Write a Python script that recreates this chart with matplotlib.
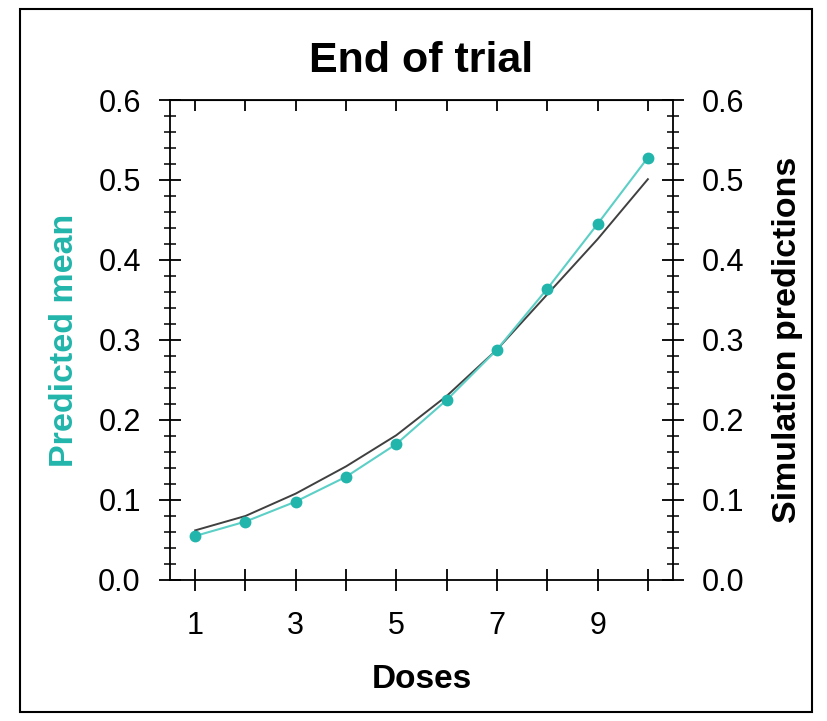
import numpy as np
import matplotlib.pyplot as plt
from matplotlib.patches import Rectangle
from matplotlib.ticker import MultipleLocator

plt.rcParams['font.family'] = ['Liberation Sans', 'DejaVu Sans']

doses = [1, 2, 3, 4, 5, 6, 7, 8, 9, 10]
predicted_mean = [0.055, 0.073, 0.098, 0.129, 0.170, 0.225, 0.288, 0.364, 0.445, 0.528]
simulation = [0.062, 0.080, 0.108, 0.142, 0.181, 0.230, 0.288, 0.357, 0.426, 0.501]

teal = "#22b5ab"
teal_line = "#5ccfc6"

fig = plt.figure(figsize=(8.27, 7.21), dpi=100)
ax = fig.add_axes([0.2056, 0.1956, 0.6082, 0.6657])

ax.plot(doses, simulation, color="#404040", lw=1.4, zorder=2)
ax.plot(doses, predicted_mean, color=teal_line, lw=1.5, zorder=3)
ax.plot(doses, predicted_mean, "o", color=teal, ms=7.5, zorder=4)

ax.set_xlim(0.5, 10.5)
ax.set_ylim(0, 0.6)
ax.set_xticks(range(1, 11))
ax.set_xticklabels([str(d) if d % 2 == 1 else "" for d in doses])
ax.yaxis.set_major_locator(MultipleLocator(0.1))
ax.yaxis.set_minor_locator(MultipleLocator(0.02))
ax.yaxis.set_major_formatter(plt.FormatStrFormatter("%.1f"))

ax.tick_params(axis="both", which="major", direction="inout", length=16, width=1.3,
               labelsize=22, colors="black")
ax.tick_params(axis="y", which="minor", direction="inout", length=8, width=1.1)
ax.tick_params(axis="y", which="both", left=True, right=True, labelright=True)
ax.tick_params(axis="y", which="major", pad=13)
ax.tick_params(axis="x", which="major", pad=14)
for s in ax.spines.values():
    s.set_linewidth(1.3)

# top ticks point inward only
top = ax.secondary_xaxis("top")
top.set_xticks(range(1, 11))
top.tick_params(direction="in", length=8, width=1.3, labelsize=0, labeltop=False)

ax.set_title("End of trial", fontsize=31, fontweight="bold", pad=20)
ax.set_xlabel("Doses", fontsize=24, fontweight="bold", labelpad=17)
ax.set_ylabel("Predicted mean", fontsize=24.5, fontweight="bold", color=teal, labelpad=13)
fig.text(0.952, 0.528, "Simulation predictions", fontsize=24.5, fontweight="bold",
         rotation=90, ha="center", va="center")

fig.patches.append(Rectangle((20 / 827, 9 / 721), 792 / 827, 703 / 721,
                             transform=fig.transFigure, fill=False, lw=1.5,
                             edgecolor="black"))

fig.savefig("out.png", dpi=100)
